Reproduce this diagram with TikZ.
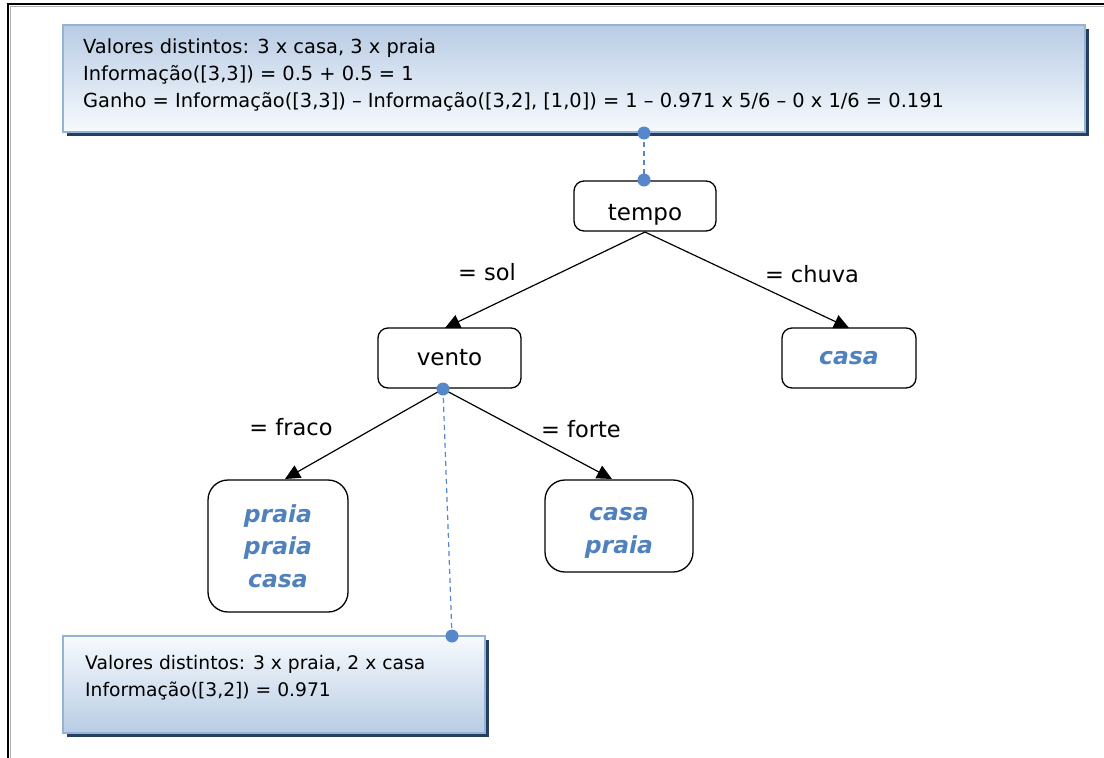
\documentclass[tikz,border=0pt]{standalone}
\usepackage{fontspec}
\setmainfont{DejaVu Sans}
\usetikzlibrary{arrows.meta,shadows}
\definecolor{boxline}{HTML}{95B3D7}
\definecolor{boxblue}{HTML}{B8CCE4}
\definecolor{boxpale}{HTML}{F7FAFD}
\definecolor{navy}{HTML}{243F60}
\definecolor{leafblue}{HTML}{4F81BD}
\definecolor{dotblue}{HTML}{5687CB}
\tikzset{
  infobox/.style={draw=boxline, line width=2.5pt, rectangle, inner sep=0pt,
    drop shadow={shadow xshift=4pt, shadow yshift=-4pt, fill=navy, opacity=1}},
  infotext/.style={align=left, anchor=north west, inner sep=0pt},
  treenode/.style={draw=black, line width=1.3pt, rounded corners=10pt, fill=white,
    font=\fontsize{23}{27}\selectfont, inner sep=0pt},
  leafbox/.style={draw=black, line width=1.3pt, rounded corners=20pt, fill=white, inner sep=0pt},
  leaftext/.style={font=\fontsize{23.5}{32.5}\selectfont\bfseries\itshape, text=leafblue,
    align=center, inner sep=0pt},
  branch/.style={draw=black, line width=1.2pt, -{Triangle[length=15pt,width=14pt]}},
  edgelabel/.style={font=\fontsize{22.5}{26}\selectfont, inner sep=0pt},
  link/.style={draw=dotblue, line width=1.2pt, dash pattern=on 5pt off 4pt},
  dot/.style={circle, fill=dotblue, minimum size=13pt, inner sep=0pt}
}
\begin{document}
\begin{tikzpicture}[x=1pt,y=-1pt]
\useasboundingbox (0,0) rectangle (1104,758);
% outer frame
\draw[gray!60, line width=1pt] (10,758) -- (10,6) -- (1104,6);
\draw[black, line width=1.6pt] (8,758) -- (8,4) -- (1104,4);

% information boxes
\node[infobox, top color=boxblue, bottom color=boxpale, minimum width=1022pt, minimum height=107pt]
  (top) at (574,78.5) {};
\node[infotext, font=\fontsize{19.4}{27}\selectfont] (toptext) at (83,39)
  {Valores distintos: 3 x casa, 3 x praia\\
   Informação([3,3]) = 0.5 + 0.5 = 1\\
   Ganho = Informação([3,3]) – Informação([3,2], [1,0]) = 1 – 0.971 x 5/6 – 0 x 1/6 = 0.191};

\node[infobox, top color=boxpale, bottom color=boxblue, minimum width=422pt, minimum height=97pt]
  (bot) at (274,684.5) {};
\node[infotext, font=\fontsize{18.7}{27}\selectfont] (bottext) at (85,655)
  {Valores distintos: 3 x praia, 2 x casa\\
   Informação([3,2]) = 0.971};

% tree
\node[treenode, minimum width=142pt, minimum height=50pt, text height=28pt, text depth=0pt]
  (tempo) at (645,206) {tempo};
\node[treenode, minimum width=143pt, minimum height=60pt] (vento) at (449.5,358) {vento};
\node[treenode, minimum width=134pt, minimum height=60pt, text height=12pt, text depth=-2pt,
  font=\fontsize{23.5}{27}\selectfont\bfseries\itshape, text=leafblue]
  (casa) at (849,358) {casa};
\node[leafbox, minimum width=140pt, minimum height=132pt] (fraco) at (278,546) {};
\node[leaftext] (fracotext) at (278,546) {praia\\praia\\casa};
\node[leafbox, minimum width=148pt, minimum height=92pt] (forte) at (619,526) {};
\node[leaftext] (fortetext) at (619,533) {casa\\praia};

\coordinate (tempoBot) at (645,232);
\coordinate (ventoTop) at (445,328);
\coordinate (casaTop) at (849,328);
\coordinate (ventoBot) at (443,389);
\coordinate (fracoTop) at (285,479);
\coordinate (forteTop) at (612,479);

\draw[branch] (tempoBot) -- (ventoTop);
\draw[branch] (tempoBot) -- (casaTop);
\draw[branch] (ventoBot) -- (fracoTop);
\draw[branch] (ventoBot) -- (forteTop);

\node[edgelabel] (lsol) at (487,272) {= sol};
\node[edgelabel] (lchuva) at (812,274) {= chuva};
\node[edgelabel] (lfraco) at (291,427) {= fraco};
\node[edgelabel] (lforte) at (581,429) {= forte};

% callout links
\coordinate (topDot) at (644,133);
\coordinate (tempoDot) at (644,180);
\coordinate (botDot) at (452,636);
\draw[link] (topDot) -- (tempoDot);
\draw[link] (ventoBot) -- (botDot);
\node[dot] (d1) at (topDot) {};
\node[dot] (d2) at (tempoDot) {};
\node[dot] (d3) at (ventoBot) {};
\node[dot] (d4) at (botDot) {};
\end{tikzpicture}
\end{document}
